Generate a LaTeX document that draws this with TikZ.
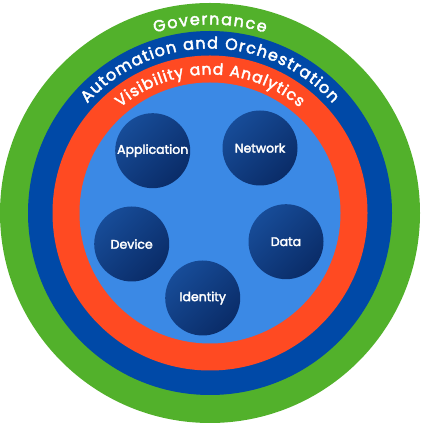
\documentclass[tikz,border=0pt]{standalone}
\usepackage{fontspec}
\setmainfont{Poppins}
\newfontfamily\pop{Poppins}[FakeBold=2.6]
\usetikzlibrary{decorations.text}
\definecolor{ggreen}{HTML}{52B12B}
\definecolor{dblue}{HTML}{0049A7}
\definecolor{rred}{HTML}{FF4A22}
\definecolor{lblue}{HTML}{3B89E5}
\definecolor{navyA}{HTML}{174C98}
\definecolor{navyB}{HTML}{0A2C68}
\tikzset{
  topic/.style={circle, minimum size=75pt, inner sep=0pt, top color=navyA, bottom color=navyB, shading angle=45, text=white, font=\pop\fontsize{12.5}{14}\selectfont},
  ringtext/.style n args={3}{decorate, decoration={text effects along path, text={#1}, text align=center,
     text effects/.cd, text along path, characters={text=white, font=\pop\fontsize{#2}{18}\selectfont},
     character widths={inner xsep=#3, font=\pop\fontsize{#2}{18}\selectfont}}}
}
\begin{document}
\begin{tikzpicture}[x=1pt,y=1pt]
\useasboundingbox (0,0) rectangle (420,425);
\coordinate (c) at (210,212);
\fill[ggreen] (c) circle[radius=210];
\fill[dblue] (c) circle[radius=182];
\fill[rred] (c) circle[radius=157.5];
\fill[lblue] (c) circle[radius=130.5];
\path[ringtext={Governance}{16}{0.75pt}] (c) ++(160:188.5) arc[start angle=160, end angle=20, radius=188.5];
\path[ringtext={Automation and Orchestration}{16}{0.6pt}] (c) ++(170:164.5) arc[start angle=170, end angle=10, radius=164.5];
\path[ringtext={Visibility and Analytics}{15.5}{0.5pt}] (c) ++(170:138.5) arc[start angle=170, end angle=10, radius=138.5];
\node[topic] (app) at (152.7,274.3) {Application};
\node[topic] (net) at (260,277) {Network};
\node[topic] (dev) at (131.7,181) {Device};
\node[topic] (dat) at (286,183.3) {Data};
\node[topic] (idt) at (202.7,127) {Identity};
\end{tikzpicture}
\end{document}
